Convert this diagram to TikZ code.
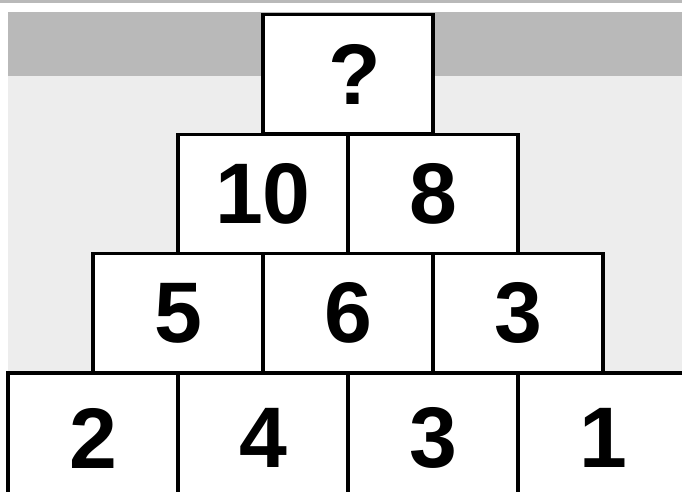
\documentclass[tikz,border=0pt]{standalone}
\usepackage{fontspec}
\setmainfont{Liberation Sans}
\usepackage{xcolor}

\begin{document}
\begin{tikzpicture}[x=1pt,y=-1pt,
  brick/.style={draw=black,fill=white,line width=3.2pt,minimum width=170pt,minimum height=119pt,inner sep=0pt,
    font=\bfseries\fontsize{86}{86}\selectfont}]
  \useasboundingbox (0,0) rectangle (682,491);
  \clip (0,0) rectangle (682,491);
  % scanned paper background
  \fill[white] (0,0) rectangle (682,491);
  \fill[gray!55] (0,0) rectangle (682,2.5);
  \fill[gray!55] (8,12) rectangle (682,76);
  \fill[gray!14] (8,76) rectangle (682,373);
  % top brick
  \node[brick] (top) at (348,74) {\hspace*{14pt}?};
  % second row
  \node[brick] (b21) at (263,194) {10};
  \node[brick] (b22) at (433,194) {8};
  % third row
  \node[brick] (b31) at (178,313) {5};
  \node[brick] (b32) at (348,313) {6};
  \node[brick] (b33) at (518,313) {3};
  % bottom row, cut off by the page edge
  \foreach \n/\x/\v in {1/93/2,2/263/4,3/433/3,4/603/1}
    \node[brick,minimum height=130pt] (b4\n) at (\x,438) {\v};
\end{tikzpicture}
\end{document}
